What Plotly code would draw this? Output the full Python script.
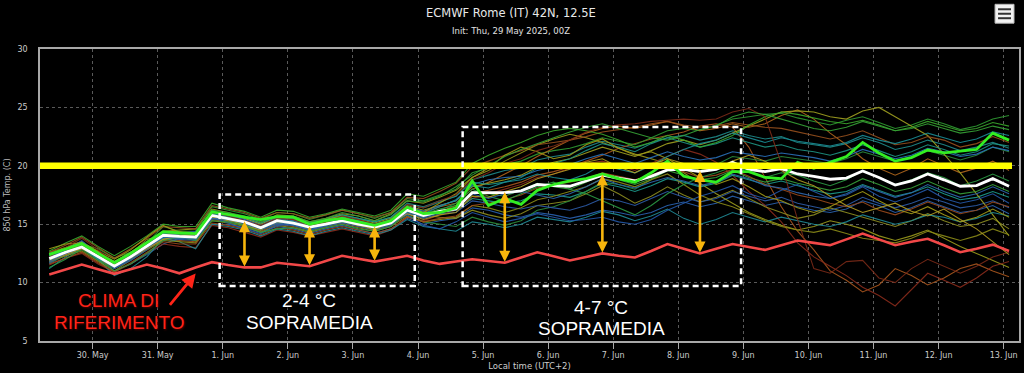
import plotly.graph_objects as go
import pandas as pd

# ---------------- data ----------------
TIMES = pd.date_range("2025-05-29 08:00", periods=60, freq="6h")

CLIMA = [10.7, 11.1, 11.55, 11.15, 10.75, 11.15, 11.55, 11.2, 10.8, 11.3,
         11.75, 11.5, 11.3, 11.3, 11.7, 11.55, 11.4, 11.85, 12.3, 12.05,
         11.8, 12.05, 12.3, 11.9, 11.6, 11.8, 12.0, 11.85, 11.7, 12.15,
         12.6, 12.25, 11.9, 12.2, 12.5, 12.3, 12.15, 12.7, 13.3, 12.9,
         12.5, 12.9, 13.3, 13.05, 12.8, 13.2, 13.6, 13.4, 13.2, 13.7,
         14.2, 13.7, 13.2, 13.5, 13.75, 13.2, 12.6, 12.9, 13.25, 12.7]

MEAN = [12.05, 12.6, 13.05, 12.2, 11.4, 12.2, 13.1, 14.05, 13.95, 13.9,
        15.75, 15.5, 15.2, 14.7, 15.3, 15.1, 14.75, 15.0, 15.3, 15.0,
        14.75, 15.1, 16.2, 15.75, 16.1, 16.3, 17.7, 17.7, 17.7, 17.85,
        18.4, 18.3, 18.25, 18.7, 19.2, 18.95, 18.7, 19.1, 19.65, 19.7,
        19.5, 19.7, 20.3, 19.7, 19.5, 19.75, 19.3, 19.1, 18.85, 18.95,
        19.55, 19.0, 18.35, 18.7, 19.3, 18.8, 18.25, 18.3, 18.9, 18.25]

CONTROL = [12.4, 12.9, 13.35, 12.5, 11.7, 12.5, 13.4, 14.35, 14.25, 14.2,
           16.05, 15.8, 15.6, 15.4, 15.65, 15.6, 15.0, 15.3, 15.5, 15.2,
           14.9, 15.3, 16.45, 15.9, 16.0, 16.4, 18.7, 16.6, 17.2, 16.7,
           17.9, 18.4, 18.7, 18.9, 19.3, 18.9, 18.6, 19.4, 20.4, 19.1,
           18.8, 18.6, 19.5, 19.5, 19.0, 18.9, 20.3, 19.8, 20.3, 20.8,
           22.0, 21.1, 20.4, 20.7, 21.35, 21.1, 21.25, 21.4, 22.8, 22.2]

MEMBERS = [
    [12.3, 12.9, 13.5, 12.6, 11.8, 12.5, 13.4, 14.3, 14.3, 14.2, 16.0,
     15.8, 15.5, 15.0, 15.6, 15.5, 15.1, 15.4, 15.8, 15.5, 15.2,
     15.6, 16.8, 16.5, 17.0, 17.4, 18.8, 19.2, 19.6, 19.8, 20.5,
     20.8, 21.0, 21.6, 22.1, 21.8, 21.5, 22.0, 22.4, 22.6, 22.2,
     22.5, 23.0, 22.6, 22.3, 22.5, 22.0, 21.8, 21.6, 21.9, 22.4,
     22.0, 21.4, 21.7, 22.2, 21.8, 21.3, 21.6, 22.0, 21.5],
    [11.6, 12.4, 13.4, 12.2, 11.0, 11.6, 12.4, 13.3, 13.8, 13.9, 15.0,
     15.0, 14.7, 14.3, 14.8, 14.6, 14.2, 14.6, 14.9, 14.5, 14.2,
     14.6, 15.5, 15.0, 15.3, 15.5, 16.4, 16.2, 15.8, 15.6, 16.0,
     15.8, 15.5, 15.8, 16.2, 16.0, 15.7, 16.0, 16.6, 16.9, 16.5,
     16.8, 17.4, 17.0, 16.6, 16.9, 16.5, 16.2, 16.0, 16.3, 17.0,
     16.6, 16.0, 16.4, 17.0, 16.5, 16.0, 16.2, 16.6, 15.9],
    [12.1, 12.7, 13.2, 12.3, 11.5, 12.3, 13.3, 14.4, 14.5, 14.6, 16.3,
     16.0, 15.6, 15.1, 15.8, 15.7, 15.2, 15.5, 15.9, 15.7, 15.3,
     15.9, 17.0, 16.8, 17.3, 17.9, 19.0, 19.6, 20.4, 21.1, 21.8,
     22.3, 22.7, 22.4, 22.0, 21.5, 21.0, 20.6, 20.2, 19.4, 18.5,
     17.6, 16.8, 16.0, 15.4, 14.9, 14.5, 14.8, 15.3, 15.0, 14.6,
     14.0, 13.6, 14.0, 14.5, 13.8, 13.1, 12.5, 11.9, 11.3],
    [11.8, 12.4, 12.9, 12.0, 11.2, 12.0, 12.9, 13.7, 13.6, 13.5, 15.4,
     15.2, 14.9, 14.4, 15.0, 14.8, 14.4, 14.8, 15.1, 14.8, 14.5,
     14.9, 15.9, 15.6, 16.1, 16.6, 17.6, 17.9, 18.2, 18.6, 19.2,
     19.5, 19.9, 20.4, 20.9, 21.5, 21.9, 22.3, 22.6, 22.9, 23.4,
     23.6, 23.3, 21.6, 19.0, 16.5, 14.4, 12.8, 11.0, 10.2, 9.2,
     9.8, 11.2, 10.6, 9.8, 10.4, 11.2, 11.6, 11.0, 10.5],
    [11.5, 12.1, 12.5, 11.6, 10.9, 11.6, 12.5, 13.3, 13.1, 13.0, 14.9,
     14.7, 14.3, 13.9, 14.5, 14.3, 14.0, 14.3, 14.6, 14.3, 14.0,
     14.5, 15.6, 15.3, 15.8, 16.2, 17.2, 17.6, 18.0, 18.4, 19.0,
     19.3, 19.8, 20.2, 20.4, 20.0, 19.6, 20.2, 20.8, 21.4, 21.0,
     20.3, 19.2, 17.8, 16.6, 15.2, 13.4, 12.2, 11.4, 10.6, 9.6,
     8.9, 8.0, 9.4, 10.8, 10.2, 9.6, 10.4, 11.4, 11.8],
    [12.5, 12.9, 13.3, 12.9, 12.1, 12.6, 13.4, 14.8, 14.4, 14.4, 16.5,
     16.2, 15.9, 15.4, 16.0, 15.9, 15.4, 15.8, 16.2, 15.9, 15.5,
     16.0, 17.2, 17.0, 17.5, 18.0, 19.4, 19.8, 20.1, 20.4, 21.0,
     21.3, 21.5, 21.9, 22.4, 22.1, 21.8, 22.4, 23.0, 23.2, 23.0,
     23.5, 24.0, 24.2, 24.4, 24.5, 24.1, 23.8, 23.5, 23.9, 24.2,
     23.7, 23.2, 23.5, 24.0, 23.6, 23.1, 23.4, 24.0, 24.3],
    [11.9, 12.5, 13.0, 12.1, 11.3, 12.1, 13.0, 13.9, 13.8, 13.8, 15.6,
     15.4, 15.0, 14.6, 15.2, 15.0, 14.6, 14.9, 15.2, 14.9, 14.6,
     15.0, 16.1, 15.7, 16.0, 16.2, 17.2, 17.0, 16.8, 17.0, 17.6,
     17.5, 17.3, 17.8, 18.5, 18.2, 17.8, 18.3, 18.9, 18.6, 18.2,
     18.5, 19.2, 18.8, 18.4, 18.7, 18.3, 17.9, 17.6, 17.8, 18.4,
     17.9, 17.4, 17.7, 18.2, 17.6, 17.1, 17.3, 17.8, 17.3],
    [12.6, 13.0, 13.2, 12.0, 11.3, 12.5, 13.7, 14.1, 14.4, 14.0, 15.6,
     15.6, 15.3, 14.8, 15.3, 15.2, 14.8, 15.0, 15.4, 15.1, 14.8,
     15.2, 16.3, 15.8, 15.6, 15.5, 16.2, 15.8, 15.5, 15.9, 16.6,
     16.8, 17.0, 17.6, 18.3, 17.6, 16.8, 17.4, 18.2, 17.5, 16.9,
     17.3, 17.9, 17.2, 16.5, 16.0, 15.5, 15.8, 16.4, 16.0, 15.6,
     15.2, 14.8, 15.3, 15.9, 15.3, 14.8, 15.0, 15.5, 14.6],
    [11.7, 12.3, 12.8, 11.9, 11.2, 12.0, 12.9, 13.8, 13.8, 13.7, 15.5,
     15.3, 15.0, 14.5, 15.1, 14.9, 14.5, 14.8, 15.2, 14.9, 14.6,
     15.0, 15.8, 15.2, 15.0, 14.8, 15.6, 15.2, 14.9, 15.3, 16.2,
     16.5, 17.0, 17.8, 18.6, 18.4, 18.0, 18.8, 19.6, 19.9, 19.6,
     20.1, 20.8, 20.6, 20.4, 20.8, 20.6, 20.4, 20.2, 20.6, 21.2,
     20.8, 20.4, 20.8, 21.3, 20.9, 20.5, 20.9, 21.6, 21.2],
    [11.7, 12.4, 13.0, 12.1, 11.3, 12.0, 12.9, 13.8, 13.7, 13.6, 15.5,
     15.3, 15.0, 14.5, 15.0, 14.9, 14.5, 14.8, 15.1, 14.8, 14.5,
     14.9, 15.9, 15.5, 15.9, 16.0, 17.0, 16.8, 16.5, 16.3, 16.6,
     16.4, 16.2, 16.6, 17.2, 17.0, 16.6, 17.2, 17.8, 17.3, 16.9,
     17.2, 17.8, 17.4, 17.0, 17.3, 16.8, 16.5, 16.2, 16.6, 17.3,
     16.8, 16.4, 16.8, 17.3, 16.9, 16.4, 16.6, 17.0, 16.4],
    [12.0, 12.6, 13.2, 12.3, 11.5, 12.3, 13.2, 14.1, 14.1, 14.1, 15.9,
     15.6, 15.3, 14.9, 15.4, 15.3, 14.9, 15.2, 15.5, 15.2, 14.9,
     15.3, 16.4, 16.0, 16.5, 16.8, 18.0, 18.6, 19.3, 20.0, 20.8,
     21.5, 22.2, 22.8, 23.2, 23.4, 23.2, 23.5, 23.8, 23.4, 23.0,
     23.2, 23.6, 23.3, 23.6, 24.3, 24.8, 24.0, 22.8, 21.8, 20.6,
     19.8, 19.2, 19.8, 20.6, 20.0, 19.4, 19.8, 20.4, 19.6],
    [12.4, 13.0, 13.5, 12.6, 11.8, 12.6, 13.5, 14.4, 14.3, 14.3, 16.1,
     15.8, 15.5, 15.0, 15.6, 15.4, 15.0, 15.3, 15.7, 15.4, 15.1,
     15.5, 16.6, 16.2, 16.6, 17.0, 18.2, 18.5, 18.8, 19.2, 19.9,
     20.3, 20.6, 21.1, 21.6, 21.2, 20.8, 21.3, 21.9, 22.2, 21.8,
     22.2, 22.8, 23.4, 24.0, 24.6, 24.7, 24.6, 24.2, 24.0, 24.7,
     25.0, 24.2, 23.4, 22.6, 21.0, 19.4, 17.6, 15.8, 14.0],
    [11.2, 12.2, 13.0, 12.0, 10.6, 11.2, 12.2, 13.8, 13.5, 12.9, 15.0,
     14.8, 14.5, 14.0, 14.6, 14.4, 14.0, 14.4, 14.7, 14.4, 14.1,
     14.5, 15.4, 14.8, 14.6, 14.4, 15.2, 15.0, 14.7, 15.0, 15.6,
     15.4, 15.2, 15.6, 16.1, 15.8, 15.3, 15.7, 16.3, 15.5, 15.0,
     15.4, 16.0, 15.6, 15.2, 15.6, 15.3, 15.0, 14.8, 15.2, 15.8,
     15.4, 15.0, 15.3, 15.8, 15.6, 15.2, 15.5, 16.0, 15.7],
    [12.6, 13.2, 13.9, 13.0, 12.1, 12.9, 13.8, 14.8, 14.7, 14.6, 16.6,
     16.3, 16.0, 15.5, 16.0, 15.9, 15.5, 15.8, 16.2, 15.9, 15.6,
     16.0, 17.3, 17.2, 17.8, 18.5, 19.9, 20.4, 20.9, 21.3, 21.8,
     22.0, 22.2, 22.5, 22.9, 23.1, 23.3, 23.6, 23.8, 23.5, 23.3,
     23.4, 23.7, 23.5, 23.3, 23.2, 22.9, 22.6, 22.3, 22.6, 23.0,
     22.4, 21.8, 22.0, 22.5, 22.2, 21.6, 21.9, 22.5, 22.0],
    [12.1, 12.7, 13.1, 12.2, 11.4, 12.2, 13.2, 14.0, 14.0, 13.9, 15.8,
     15.6, 15.2, 14.7, 15.3, 15.2, 14.7, 15.1, 15.4, 15.1, 14.8,
     15.2, 16.2, 15.9, 16.3, 16.6, 17.8, 17.6, 17.4, 17.9, 18.5,
     18.2, 18.0, 18.6, 19.2, 18.8, 18.4, 18.9, 19.6, 19.2, 18.8,
     19.0, 19.6, 19.0, 18.6, 18.9, 18.5, 18.2, 17.9, 18.2, 18.9,
     18.4, 17.8, 18.1, 18.7, 18.1, 17.6, 17.8, 18.4, 17.8],
    [12.2, 12.8, 13.4, 12.5, 11.6, 12.4, 13.3, 14.2, 14.1, 14.0, 15.9,
     15.7, 15.4, 14.9, 15.5, 15.3, 14.9, 15.2, 15.6, 15.3, 15.0,
     15.4, 16.5, 16.1, 16.6, 17.0, 18.4, 18.8, 19.0, 19.1, 19.6,
     19.9, 20.1, 20.6, 21.0, 20.6, 20.2, 20.7, 21.2, 20.8, 20.5,
     20.7, 21.2, 21.0, 20.8, 21.1, 20.9, 20.7, 20.4, 20.8, 21.4,
     21.0, 20.6, 20.9, 21.5, 21.2, 20.8, 21.0, 21.6, 21.3],
    [11.8, 12.3, 12.7, 11.8, 11.0, 11.9, 12.8, 13.6, 13.5, 13.4, 15.3,
     15.1, 14.8, 14.3, 14.9, 14.7, 14.3, 14.7, 15.0, 14.7, 14.4,
     14.8, 15.7, 15.2, 15.4, 15.6, 16.6, 16.4, 16.0, 16.4, 17.1,
     17.4, 17.8, 18.2, 18.9, 18.6, 18.2, 18.8, 19.3, 18.4, 17.5,
     16.9, 16.5, 15.9, 15.3, 14.8, 14.5, 14.3, 14.6, 14.2, 13.8,
     13.6, 13.4, 13.8, 14.4, 14.0, 13.6, 14.0, 14.6, 14.1],
    [12.3, 12.9, 13.4, 12.5, 11.7, 12.5, 13.5, 14.3, 14.2, 14.2, 16.1,
     15.9, 15.6, 15.1, 15.6, 15.5, 15.1, 15.4, 15.8, 15.5, 15.2,
     15.6, 16.7, 16.4, 16.9, 17.4, 18.6, 18.4, 18.6, 19.0, 19.8,
     20.2, 20.6, 21.3, 21.9, 21.6, 21.2, 21.9, 22.4, 22.0, 21.6,
     21.9, 22.4, 22.0, 21.6, 21.8, 21.4, 21.2, 20.9, 21.3, 21.8,
     21.3, 20.8, 21.2, 21.8, 21.4, 20.9, 21.2, 21.9, 21.7],
    [11.6, 12.1, 12.6, 11.7, 10.9, 11.7, 12.6, 13.5, 13.3, 13.3, 15.1,
     14.9, 14.6, 14.1, 14.7, 14.5, 14.1, 14.5, 14.8, 14.5, 14.2,
     14.6, 15.6, 15.2, 15.5, 15.7, 16.6, 16.8, 17.1, 17.5, 18.1,
     18.4, 18.6, 18.9, 19.4, 19.1, 18.8, 19.2, 19.7, 19.5, 19.0,
     19.2, 19.7, 19.1, 18.4, 18.0, 17.5, 17.2, 16.8, 16.5, 16.9,
     16.2, 15.8, 16.3, 16.9, 16.4, 15.9, 16.2, 16.9, 16.5],
    [12.7, 13.4, 14.0, 13.1, 12.3, 13.1, 14.0, 15.0, 14.8, 14.8, 16.8,
     16.4, 16.1, 15.6, 16.2, 16.1, 15.6, 15.9, 16.3, 16.0, 15.7,
     16.2, 17.6, 17.4, 18.0, 18.6, 20.2, 20.9, 21.5, 22.0, 22.6,
     23.0, 23.2, 23.0, 22.7, 22.2, 21.6, 22.0, 22.6, 22.2, 21.6,
     22.0, 22.6, 23.5, 24.2, 24.6, 24.4, 24.1, 23.8, 23.6, 23.9,
     23.5, 23.0, 23.3, 23.8, 23.4, 23.0, 23.2, 23.7, 23.4],
    [12.0, 12.8, 13.6, 12.4, 11.2, 11.9, 12.8, 13.9, 14.2, 14.4, 15.6,
     15.1, 14.6, 14.2, 14.9, 15.0, 14.6, 15.0, 15.6, 15.2, 14.7,
     15.0, 15.8, 14.9, 14.6, 15.2, 16.0, 15.6, 15.2, 15.5, 15.9,
     15.6, 15.3, 15.4, 15.6, 15.2, 15.0, 15.4, 16.2, 16.8, 17.4,
     17.8, 18.3, 17.6, 17.2, 17.9, 18.4, 17.8, 17.2, 17.5, 18.2,
     17.4, 16.9, 17.4, 18.0, 17.2, 16.8, 17.1, 17.6, 16.8],
    [12.9, 13.3, 13.4, 12.7, 12.0, 12.8, 13.9, 14.9, 14.3, 13.8, 15.9,
     15.4, 14.9, 14.5, 15.4, 15.1, 14.6, 15.4, 15.7, 15.0, 14.5,
     15.3, 16.5, 16.0, 16.8, 17.6, 19.0, 19.8, 20.9, 21.6, 21.2,
     20.6, 20.9, 21.8, 22.3, 21.5, 20.9, 21.2, 20.6, 19.8, 19.0,
     18.4, 18.9, 18.2, 17.4, 17.0, 16.4, 16.0, 16.5, 17.2, 17.8,
     17.0, 16.3, 15.9, 16.5, 15.8, 15.2, 15.6, 16.3, 15.6],
    [11.3, 12.0, 12.9, 12.0, 11.0, 11.6, 12.5, 13.6, 13.9, 13.6, 15.3,
     15.2, 14.9, 14.3, 14.6, 14.7, 14.4, 14.7, 15.0, 14.6, 14.4,
     14.8, 16.0, 15.6, 16.2, 16.8, 18.0, 17.4, 17.0, 17.6, 18.2,
     18.6, 18.0, 17.6, 17.0, 16.4, 15.8, 16.6, 17.6, 18.4, 19.0,
     19.4, 19.9, 19.6, 19.0, 19.4, 19.2, 18.7, 18.3, 18.8, 19.6,
     19.0, 18.4, 18.8, 19.4, 19.0, 18.3, 18.7, 19.3, 18.7],
    [12.4, 12.6, 13.0, 12.0, 11.6, 12.6, 13.2, 13.8, 13.9, 14.3, 15.9,
     15.6, 15.1, 14.8, 15.5, 15.2, 14.7, 15.3, 15.6, 15.1, 14.9,
     15.4, 16.2, 15.9, 16.5, 17.1, 18.3, 18.1, 18.6, 18.8, 19.3,
     19.0, 18.8, 19.3, 20.1, 19.7, 19.4, 20.0, 20.8, 21.4, 21.9,
     22.2, 22.8, 22.4, 22.0, 22.4, 22.1, 21.9, 21.7, 22.0, 22.6,
     22.2, 21.9, 22.3, 22.8, 22.4, 22.0, 22.3, 22.9, 22.6],
    [12.2, 13.0, 13.8, 12.8, 11.7, 12.2, 13.0, 14.1, 14.0, 14.2, 16.0,
     15.7, 15.3, 14.9, 15.5, 15.4, 14.9, 15.2, 15.7, 15.4, 15.0,
     15.4, 16.7, 16.4, 17.0, 17.5, 18.8, 19.4, 20.2, 20.6, 21.3,
     21.7, 22.2, 22.9, 23.3, 23.5, 23.6, 23.8, 23.9, 24.0, 23.9,
     24.0, 24.6, 24.9, 24.2, 20.2, 15.4, 11.2, 10.8, 11.8, 11.9,
     10.4, 10.0, 11.2, 12.0, 11.4, 10.8, 11.4, 12.2, 12.6],
    [11.9, 12.4, 12.9, 12.3, 11.6, 12.1, 12.9, 13.7, 14.0, 14.1, 15.6,
     15.3, 15.2, 14.7, 15.1, 15.1, 14.8, 15.1, 15.3, 14.9, 14.7,
     15.1, 15.9, 15.4, 15.8, 16.0, 17.4, 17.3, 17.8, 18.2, 18.9,
     19.3, 19.7, 20.3, 20.6, 19.9, 19.4, 20.1, 20.6, 20.2, 19.6,
     19.8, 20.4, 20.9, 20.4, 19.6, 18.8, 18.3, 17.4, 16.6, 16.0,
     16.4, 16.8, 16.1, 15.7, 16.3, 15.4, 14.6, 13.5, 12.4],
    [11.8, 12.5, 13.1, 12.2, 11.4, 12.1, 13.0, 13.9, 13.8, 13.7, 15.5,
     15.4, 15.1, 14.6, 15.1, 15.0, 14.5, 14.9, 15.3, 15.0, 14.7,
     15.1, 16.0, 15.6, 16.0, 16.4, 17.6, 17.2, 17.6, 17.8, 17.5,
     17.2, 17.6, 18.2, 18.9, 18.4, 18.1, 18.6, 19.0, 18.7, 18.3,
     18.6, 19.3, 18.9, 18.3, 18.1, 17.7, 17.4, 17.2, 17.6, 18.3,
     17.8, 17.3, 17.7, 18.4, 17.8, 17.3, 17.6, 18.2, 17.6],
    [12.5, 12.8, 13.2, 12.4, 11.6, 12.3, 13.3, 14.0, 14.1, 14.2, 16.2,
     16.0, 15.7, 15.2, 15.7, 15.7, 15.2, 15.5, 16.0, 15.7, 15.3,
     15.8, 17.0, 16.9, 17.4, 18.2, 19.2, 20.0, 20.8, 21.4, 21.9,
     22.4, 22.9, 23.3, 23.6, 23.2, 22.8, 22.4, 22.2, 22.6, 23.1,
     23.4, 24.2, 24.6, 24.4, 24.0, 23.6, 23.2, 23.0, 23.3, 23.8,
     23.4, 23.0, 23.2, 23.6, 23.2, 22.8, 23.0, 23.4, 23.1],
]

MEMBER_COLORS = ["#1f8a8a", "#2a62b0", "#9a9a1c", "#a8561e", "#8a2c1c",
                 "#2f9a32", "#1c9a8c", "#8c8c20", "#2c8c3c", "#2e5ca8",
                 "#b0661c", "#a0a020", "#208a96", "#96501e", "#38a03a",
                 "#2a70b8", "#8a8a18", "#1e9484", "#9a4a1c", "#3aa82c",
                 "#2458a8", "#a09a18", "#2c9a44", "#1a8c94", "#7a2a18",
                 "#b09a22", "#2e66ac", "#36a236"]

Y_TICKS = [5, 10, 15, 20, 25, 30]
THRESHOLD = 20
ARROW_IDX = [12, 16, 20, 28, 34, 40]

TITLE = "ECMWF Rome (IT) 42N, 12.5E"
SUBTITLE = "Init: Thu, 29 May 2025, 00Z"

# ---------------- figure ----------------
W, H = 1024, 373
L, R, T, B = 40, 1021, 49, 343


def px(x):
    return (x - L) / (R - L)


def py(y):
    return (B - y) / (B - T)


fig = go.Figure()

for vals, col in zip(MEMBERS, MEMBER_COLORS):
    fig.add_trace(go.Scatter(x=TIMES, y=vals, mode="lines",
                             line=dict(color=col, width=1.1), opacity=0.9,
                             showlegend=False, hoverinfo="skip"))

fig.add_trace(go.Scatter(x=TIMES, y=CLIMA, mode="lines",
                         line=dict(color="#f24848", width=2.6), showlegend=False))
fig.add_trace(go.Scatter(x=TIMES, y=MEAN, mode="lines",
                         line=dict(color="#ffffff", width=2.8), showlegend=False))
fig.add_trace(go.Scatter(x=TIMES, y=CONTROL, mode="lines",
                         line=dict(color="#33ee22", width=2.8), showlegend=False))

shapes = []
# threshold line
shapes.append(dict(type="line", xref="paper", yref="y", x0=0, x1=px(1014),
                   y0=THRESHOLD, y1=THRESHOLD, layer="above",
                   line=dict(color="#ffff00", width=6.5)))
# dashed boxes (pixel-placed annotation frames)
for (xa, xb, ya, yb) in [(220, 415.5, 195.5, 287.5), (463.5, 742.5, 127.5, 287.5)]:
    shapes.append(dict(type="rect", xref="paper", yref="paper",
                       x0=px(xa), x1=px(xb), y0=py(yb), y1=py(ya), layer="above",
                       line=dict(color="white", width=2.5, dash="6px,4px")))
# menu icon
shapes.append(dict(type="rect", xref="paper", yref="paper",
                   x0=px(997), x1=px(1016), y0=py(23), y1=py(4),
                   fillcolor="#f2f2f2", line=dict(color="#bbbbbb", width=1)))
for yy in (9, 13.5, 18):
    shapes.append(dict(type="line", xref="paper", yref="paper",
                       x0=px(1000), x1=px(1013), y0=py(yy), y1=py(yy),
                       line=dict(color="#333333", width=2)))

annotations = []
annotations.append(dict(text=TITLE, xref="paper", yref="paper", x=0.5 * (px(0) + px(W)),
                        y=py(13), showarrow=False, xanchor="center", yanchor="middle",
                        font=dict(family="DejaVu Sans", size=11.5, color="#e8e8e8")))
annotations.append(dict(text=SUBTITLE, xref="paper", yref="paper", x=0.5 * (px(0) + px(W)),
                        y=py(31), showarrow=False, xanchor="center", yanchor="middle",
                        font=dict(family="DejaVu Sans", size=8.5, color="#e0e0e0")))

# orange double arrows from climatology to ensemble mean
for idx in ARROW_IDX:
    annotations.append(dict(x=TIMES[idx], y=MEAN[idx] + 0.05, ax=TIMES[idx], ay=CLIMA[idx] - 0.05,
                            xref="x", yref="y", axref="x", ayref="y", text="",
                            showarrow=True, arrowhead=2, arrowsize=0.85,
                            arrowwidth=2.6, arrowcolor="#f7b50c",
                            arrowside="end+start", standoff=0, startstandoff=0))

red_font = dict(family="Liberation Sans, Arial", size=19, color="#ff2418",
                shadow="1px 1px 2px #550000")
white_font = dict(family="Liberation Sans, Arial", size=19, color="#ffffff",
                  shadow="1px 1px 2px #000000")
for txt, x, y, f in [("CLIMA DI", 119, 302, red_font),
                     ("RIFERIMENTO", 120, 324, red_font),
                     ("2-4 °C", 310, 302, white_font),
                     ("SOPRAMEDIA", 310, 324, white_font),
                     ("4-7 °C", 602, 309, white_font),
                     ("SOPRAMEDIA", 603, 330, white_font)]:
    annotations.append(dict(text=txt, xref="paper", yref="paper", x=px(x), y=py(y),
                            showarrow=False, xanchor="center", yanchor="middle", font=f))

# red arrow pointing at the climate line
annotations.append(dict(xref="paper", yref="paper", axref="pixel", ayref="pixel",
                        x=px(196), y=py(275), ax=-27, ay=33, text="",
                        showarrow=True, arrowhead=2, arrowsize=1.0, arrowwidth=2.8,
                        arrowcolor="#ff2418", standoff=0))

fig.update_layout(
    width=W, height=H,
    margin=dict(l=L, r=W - R, t=T, b=H - B),
    paper_bgcolor="black", plot_bgcolor="black",
    showlegend=False,
    shapes=shapes, annotations=annotations,
    font=dict(family="DejaVu Sans", color="#cccccc", size=8),
)

fig.update_xaxes(
    type="date", range=["2025-05-29 04:35", "2025-06-13 05:40"],
    dtick=86400000, tick0="2025-05-30", tickformat="%-d. %b",
    showgrid=True, gridcolor="#5a5a5a", griddash="3px,3px", gridwidth=1,
    showline=True, linecolor="#a8a8a8", linewidth=1.5, mirror=True,
    ticks="outside", ticklen=6, tickcolor="#a8a8a8", tickwidth=1,
    tickfont=dict(size=8, color="#cccccc"),
    title=dict(text="Local time (UTC+2)", font=dict(size=8.5, color="#cccccc"), standoff=4),
    zeroline=False,
)
fig.update_yaxes(
    range=[5, 30], tickvals=Y_TICKS,
    showgrid=True, gridcolor="#5a5a5a", griddash="3px,3px", gridwidth=1,
    showline=True, linecolor="#a8a8a8", linewidth=1.5, mirror=True,
    ticks="", ticklabelstandoff=9,
    tickfont=dict(size=8, color="#cccccc"),
    title=dict(text="850 hPa Temp. (C)", font=dict(size=8, color="#bbbbbb"), standoff=6),
    zeroline=False,
)

fig.write_html("out.html", config={"displayModeBar": False},
               post_script="document.body.style.margin='0px';document.body.style.background='black';")
